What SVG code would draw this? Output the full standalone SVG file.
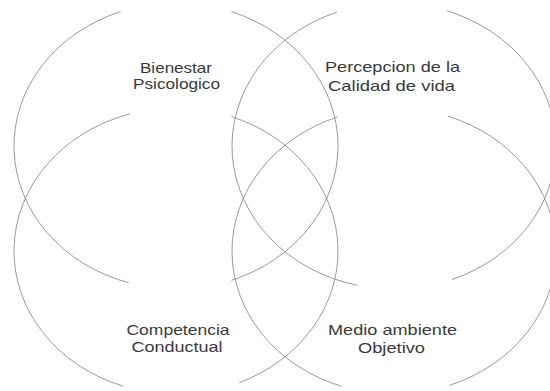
<svg xmlns="http://www.w3.org/2000/svg" width="550" height="391" viewBox="0 0 550 391">
<style>
.ring{fill:none;stroke:#808080;stroke-width:0.8}
.lbl{font-family:"Liberation Sans",Arial,sans-serif;font-size:14.5px;fill:#3a3a3a;text-anchor:middle}
</style>
<rect width="550" height="391" fill="#ffffff"/>
<g id="connectors"></g>
<g id="bienestar">
<path class="ring" d="M231.4,11.62 A162,143 0 0 1 231.4,280.38 M128.63,282.75 A162,143 0 0 1 120.6,11.62"/>
<text class="lbl" x="176" y="73" textLength="72" lengthAdjust="spacingAndGlyphs">Bienestar</text>
<text class="lbl" x="176.5" y="89" textLength="87" lengthAdjust="spacingAndGlyphs">Psicologico</text>
</g>
<g id="percepcion">
<path class="ring" d="M446.74,10.79 A162,143 0 0 1 452.06,279.5 M357.55,285.33 A162,143 0 0 1 337.01,12.14"/>
<text class="lbl" x="392.5" y="72" textLength="135" lengthAdjust="spacingAndGlyphs">Percepcion de la</text>
<text class="lbl" x="391.5" y="91" textLength="127" lengthAdjust="spacingAndGlyphs">Calidad de vida</text>
</g>
<g id="competencia">
<path class="ring" d="M231.4,116.62 A162,143 0 0 1 239.3,382.63 M123.26,386.21 A162,143 0 0 1 129.99,113.89"/>
<text class="lbl" x="178" y="335" textLength="103" lengthAdjust="spacingAndGlyphs">Competencia</text>
<text class="lbl" x="177" y="352" textLength="91" lengthAdjust="spacingAndGlyphs">Conductual</text>
</g>
<g id="medio">
<path class="ring" d="M448.08,116.21 A162,143 0 0 1 449.4,385.38 M341.26,386.21 A162,143 0 0 1 337.27,117.05"/>
<text class="lbl" x="392.5" y="335" textLength="129" lengthAdjust="spacingAndGlyphs">Medio ambiente</text>
<text class="lbl" x="391.5" y="353" textLength="67" lengthAdjust="spacingAndGlyphs">Objetivo</text>
</g>
</svg>
